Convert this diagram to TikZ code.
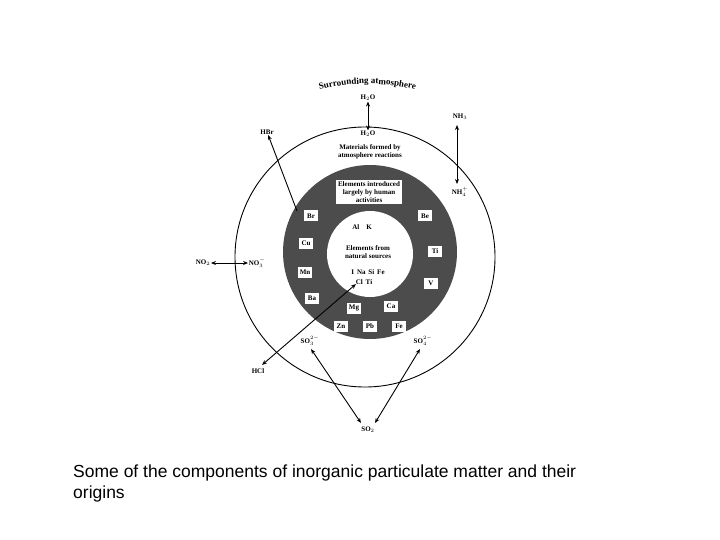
\documentclass[tikz,border=0pt]{standalone}
\usepackage{fontspec}
\setmainfont{Liberation Serif}
\newfontfamily\capfont{Liberation Sans}
\usetikzlibrary{decorations.text,arrows.meta}
\begin{document}
\begin{tikzpicture}[x=1pt,y=-1pt,
  lab/.style={font=\fontsize{7}{8}\selectfont\bfseries,inner sep=0.5pt,align=center},
  el/.style={lab,fill=white,minimum width=14,minimum height=11,inner sep=1pt},
  arr/.style={-{Stealth[length=5pt,width=4pt]},line width=0.9pt},
  darr/.style={{Stealth[length=5pt,width=4pt]}-{Stealth[length=5pt,width=4pt]},line width=0.9pt}]
\useasboundingbox (0,0) rectangle (720,540);
\draw[line width=0.9pt] (365,257) circle (130);
\fill[black!70] (370,252) circle (87);
\fill[white] (370,254) circle (43);
\path[decorate,decoration={text along path,text align=center,text={|\fontsize{9}{10}\selectfont\bfseries|Surrounding atmosphere}}]
  (305,95) .. controls (340,80) and (395,80) .. (430,95);
\node[lab] (h2oa) at (368,98) {H$_2$O};
\node[lab] (h2ob) at (368,134) {H$_2$O};
\draw[darr] (h2oa) -- (h2ob);
\node[lab] (mat) at (370,152) {Materials formed by\\atmosphere reactions};
\node[lab] (hbr) at (267,132) {HBr};
\node[lab] (nh3) at (460,117) {NH$_3$};
\node[lab] (nh4) at (460,192) {NH$_4^+$};
\draw[darr] (457,125) -- (457,184);
\node[lab,fill=white,inner sep=2pt] (hum) at (369,192) {Elements introduced\\largely by human\\activities};
\node[el] (br) at (311,216) {Br};
\node[el] (cu) at (306,243) {Cu};
\node[el] (mn) at (305,272) {Mn};
\node[el] (ba) at (312,298) {Ba};
\node[el] (be) at (425,216) {Be};
\node[el] (ti) at (435,251) {Ti};
\node[el] (v) at (431,283) {V};
\node[el] (mg) at (354,308) {Mg};
\node[el] (ca) at (391,306) {Ca};
\node[el] (zn) at (341,326) {Zn};
\node[el] (pb) at (370,326) {Pb};
\node[el] (fe) at (399,326) {Fe};
\node[lab] (alk) at (362,227) {Al\quad K};
\node[lab] (nat) at (368,252) {Elements from\\natural sources};
\node[lab] (ina) at (368,272) {I\, Na\, Si\, Fe};
\node[lab] (clti) at (364,282) {Cl\, Ti};
\draw[arr] (297,211) -- (hbr);
\node[lab] (no2) at (203,263) {NO$_2$};
\node[lab] (no3) at (257,263) {NO$_3^-$};
\draw[darr] (no2) -- (no3);
\node[lab] (hcl) at (258,371) {HCl};
\node[lab] (so3) at (310,341) {SO$_3^{2-}$};
\node[lab] (so4) at (423,341) {SO$_4^{2-}$};
\node[lab] (so2) at (368,430) {SO$_2$};
\draw[darr] (356,284) -- (262,365);
\draw[darr] (311,349) -- (361,423);
\draw[darr] (420,349) -- (375,423);
\node[anchor=west,font=\capfont\fontsize{17.5}{21}\selectfont,align=left,inner sep=0] (cap) at (73,483) {Some of the components of inorganic particulate matter and their\\ origins};
\end{tikzpicture}
\end{document}
